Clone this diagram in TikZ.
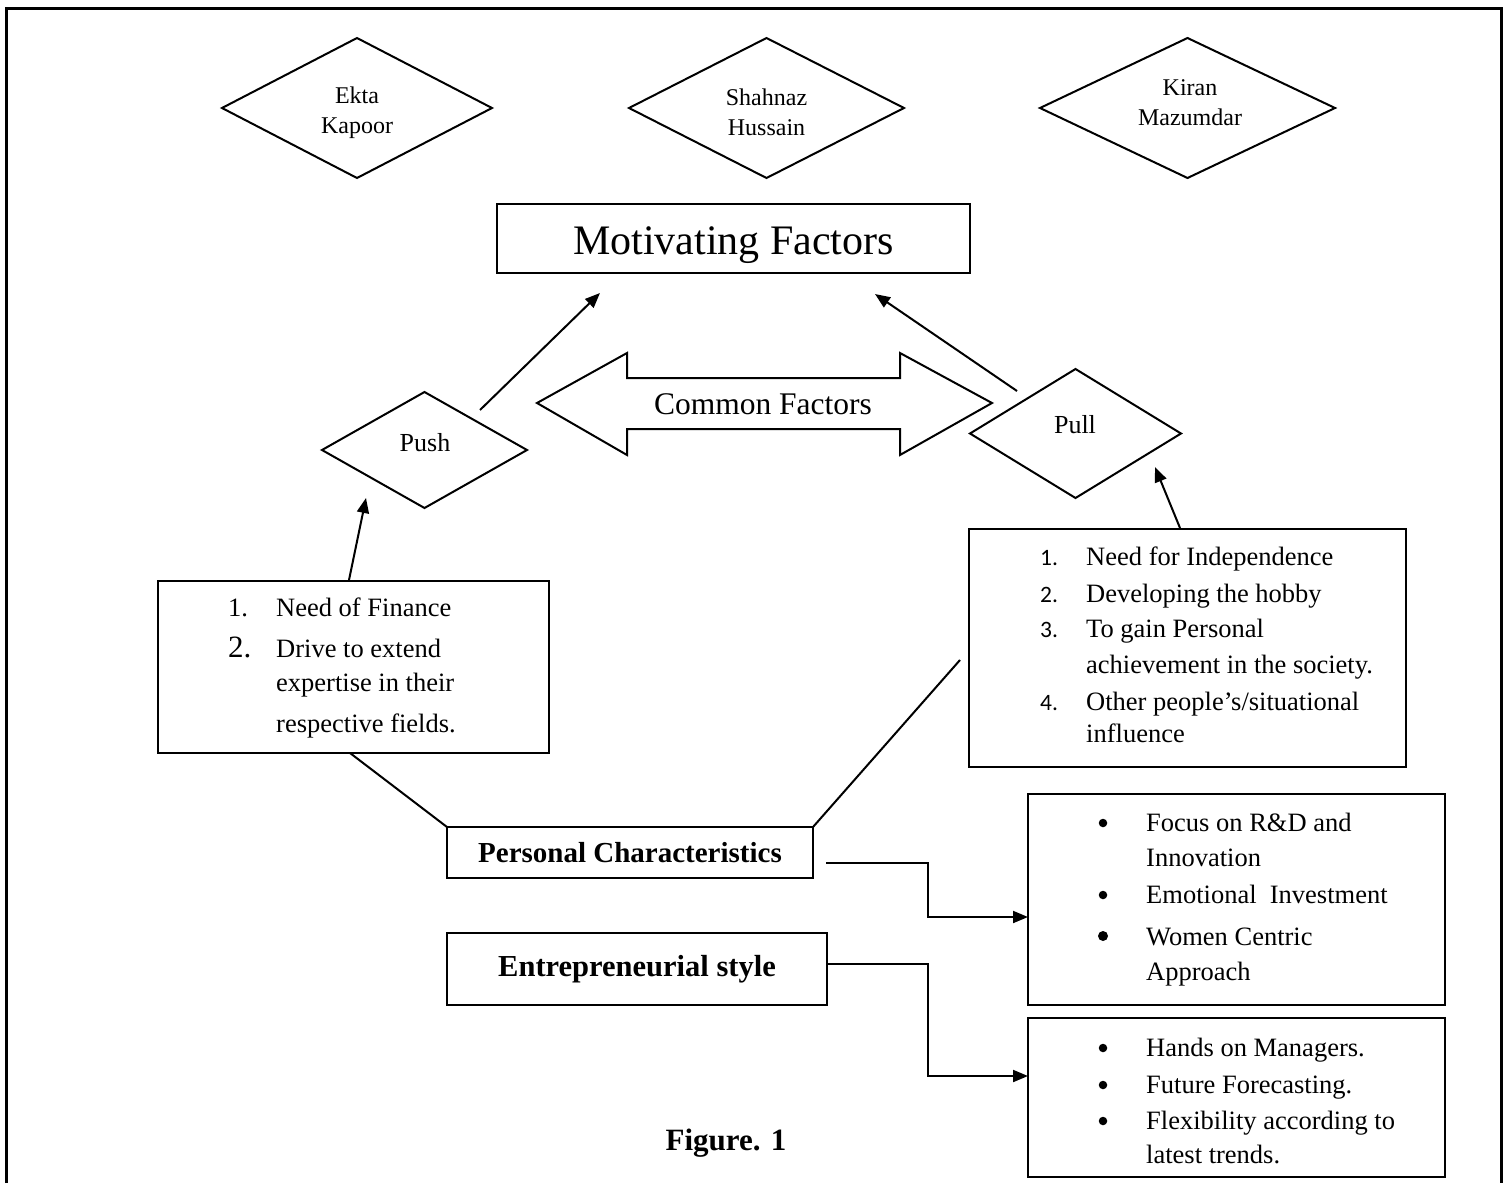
\documentclass[tikz,border=0pt]{standalone}
\usepackage{fontspec}
\setmainfont{Liberation Serif}
\newfontfamily\calfont{Carlito}
\usetikzlibrary{arrows.meta,shapes.geometric}
\newcommand\fsz[1]{\fontsize{#1}{#1}\selectfont}
\begin{document}
\begin{tikzpicture}[x=1pt,y=-1pt,
  box/.style={draw, line width=2pt, rectangle, inner sep=0pt, outer sep=0pt},
  dia/.style={draw, line width=2pt, diamond, inner sep=0pt, outer sep=0pt},
  dtext/.style={inner sep=0pt, align=center, font=\fontsize{24}{30}\selectfont},
  arr/.style={line width=2pt, -{Triangle[length=15pt,width=12pt]}},
  ln/.style={line width=2pt},
  tx/.style={anchor=base west, inner sep=0pt, font=\fsz{26.5}},
  pnum/.style={anchor=base west, inner sep=0pt, font=\calfont\fsz{23.5}},
  bul/.style={circle, fill, inner sep=0pt, minimum size=8.5pt},
]
\useasboundingbox (0,0) rectangle (1509,1183);
% outer frame (open at the bottom)
\draw[line width=3pt] (6,1183) -- (6,8) -- (1501,8) -- (1501,1183);

% top diamonds
\node[dia, minimum width=270pt, minimum height=140pt] (ekta) at (357,108) {};
\node[dtext] (ektat) at (357,113) {Ekta\\Kapoor};
\node[dia, minimum width=275pt, minimum height=140pt] (shah) at (766.5,108) {};
\node[dtext] (shaht) at (766.5,112) {Shahnaz\\Hussain};
\node[dia, minimum width=295pt, minimum height=140pt] (kiran) at (1187.5,108) {};
\node[dtext] (kirant) at (1190,103) {Kiran\\Mazumdar};

% Motivating factors
\node[box, minimum width=473pt, minimum height=69pt] (mf) at (733.5,238.5) {};
\node[inner sep=0pt, anchor=base, font=\fsz{42}] (mft) at (733.5,254) {Motivating Factors};

% push / pull diamonds
\node[dia, minimum width=205pt, minimum height=116pt] (push) at (424.5,450) {};
\node[inner sep=0pt, font=\fsz{26}] (pusht) at (425,443) {Push};
\node[dia, minimum width=211pt, minimum height=129pt] (pull) at (1075.5,433.5) {};
\node[inner sep=0pt, font=\fsz{26}] (pullt) at (1075,425) {Pull};

% common factors double arrow
\draw[line width=2pt] (537,403) -- (627,353) -- (627,378) -- (900,378) -- (900,353) -- (992,403)
  -- (900,455) -- (900,429) -- (627,429) -- (627,455) -- cycle;
\node[inner sep=0pt, font=\fsz{31.5}] (common) at (763,404) {Common Factors};

% arrows to motivating factors
\coordinate (pushout) at (480,410);
\coordinate (mfin1) at (600,293);
\coordinate (pullout) at (1017,391);
\coordinate (mfin2) at (875,294);
\draw[arr] (pushout) -- (mfin1);
\draw[arr] (pullout) -- (mfin2);

% push box
\node[box, minimum width=391pt, minimum height=172pt] (pushbox) at (353.5,667) {};
\node[tx] (pn1) at (228,616) {1.};
\node[tx] (pt1) at (276,616) {Need of Finance};
\node[tx, font=\fsz{31}] (pn2) at (228,657) {2.};
\node[tx] (pt2) at (276,657) {Drive to extend};
\node[tx] (pt3) at (276,691) {expertise in their};
\node[tx] (pt4) at (276,732) {respective fields.};

% pull box
\node[box, minimum width=437pt, minimum height=238pt] (pullbox) at (1187.5,648) {};
\node[pnum] (qn1) at (1040,565) {1.};
\node[pnum] (qn2) at (1040,602) {2.};
\node[pnum] (qn3) at (1040,637) {3.};
\node[pnum] (qn4) at (1040,710) {4.};
\node[tx] (qt1) at (1086,565) {Need for Independence};
\node[tx] (qt2) at (1086,602) {Developing the hobby};
\node[tx] (qt3) at (1086,637) {To gain Personal};
\node[tx] (qt4) at (1086,673) {achievement in the society.};
\node[tx] (qt5) at (1086,710) {Other people’s/situational};
\node[tx] (qt6) at (1086,742) {influence};

% arrows from boxes to push/pull
\coordinate (pbtop) at (349,580);
\coordinate (pushin) at (366,498);
\coordinate (qbtop) at (1180,528);
\coordinate (pullin) at (1155,467);
\draw[arr] (pbtop) -- (pushin);
\draw[arr] (qbtop) -- (pullin);

% personal characteristics & entrepreneurial style
\node[box, minimum width=366pt, minimum height=51pt, font=\bfseries\fsz{29}] (pc) at (630,852.5) {Personal Characteristics};
\node[box, minimum width=380pt, minimum height=72pt, font=\bfseries\fsz{30.5}] (es) at (637,969) {Entrepreneurial style};

\coordinate (pbbot) at (350,753);
\coordinate (pcline) at (960,660);
\draw[ln] (pbbot) -- (pc.north west);
\draw[ln] (pc.north east) -- (pcline);

% right boxes
\node[box, minimum width=417pt, minimum height=211pt] (rb1) at (1236.5,899.5) {};
\node[box, minimum width=417pt, minimum height=159pt] (rb2) at (1236.5,1097.5) {};

\node[bul] (b1) at (1103,823) {};
\node[tx] (r1) at (1146,831) {Focus on R\&D and};
\node[tx] (r2) at (1146,866) {Innovation};
\node[bul] (b2) at (1103,895) {};
\node[tx] (r3) at (1146,903) {Emotional\ \ Investment};
\node[bul, minimum size=10pt] (b3) at (1103,936) {};
\node[tx] (r4) at (1146,945) {Women Centric};
\node[tx] (r5) at (1146,980) {Approach};

\node[bul] (b4) at (1103,1048) {};
\node[tx] (s1) at (1146,1056) {Hands on Managers.};
\node[bul] (b5) at (1103,1085) {};
\node[tx] (s2) at (1146,1093) {Future Forecasting.};
\node[bul] (b6) at (1103,1121) {};
\node[tx] (s3) at (1146,1129) {Flexibility according to};
\node[tx] (s4) at (1146,1163) {latest trends.};

% elbow connectors
\coordinate (pcout) at (826,863);
\coordinate (e1) at (928,917);
\draw[arr] (pcout) -- (928,863) -- (e1) -- (e1 -| rb1.west);
\coordinate (esout) at (827,964);
\coordinate (e2) at (928,1076);
\draw[arr] (esout) -- (928,964) -- (e2) -- (e2 -| rb2.west);

% caption
\node[inner sep=0pt, font=\bfseries\fsz{31}] (fig) at (726,1143) {Figure. 1};
\end{tikzpicture}
\end{document}
